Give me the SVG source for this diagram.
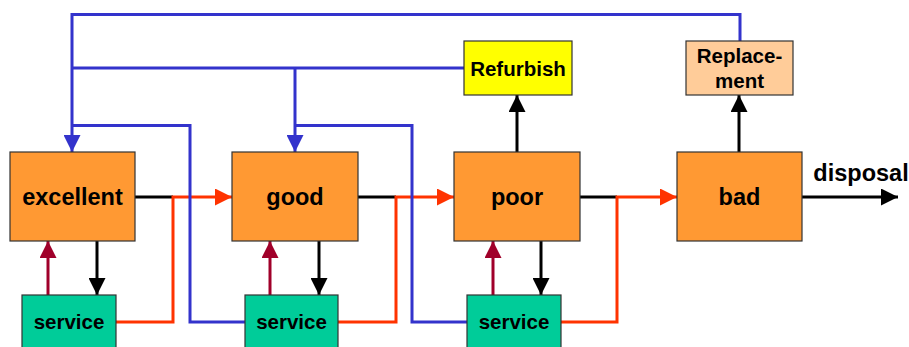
<svg xmlns="http://www.w3.org/2000/svg" width="909" height="347" viewBox="0 0 909 347">
  <style>
    .box { stroke: #333333; stroke-width: 1.2; }
    .state { fill: #FF9933; }
    .svc { fill: #00CC99; }
    .lbl { font-family: "Liberation Sans", Arial, sans-serif; font-weight: bold; fill: #000; text-anchor: middle; }
    .big { font-size: 23.5px; }
    .small { font-size: 20.5px; }
    .c { fill: none; stroke-width: 3; stroke-linejoin: miter; }
    .blk { stroke: #000000; }
    .red { stroke: #FF3300; }
    .dred { stroke: #A0002A; }
    .blu { stroke: #3333CC; }
  </style>
  <defs>
    <marker id="ah-black" markerUnits="userSpaceOnUse" markerWidth="17" markerHeight="17" refX="17" refY="8.5" orient="auto">
      <path d="M0,0 L17,8.5 L0,17 z" fill="#000000"/>
    </marker>
    <marker id="ah-red" markerUnits="userSpaceOnUse" markerWidth="17" markerHeight="17" refX="17" refY="8.5" orient="auto">
      <path d="M0,0 L17,8.5 L0,17 z" fill="#FF3300"/>
    </marker>
    <marker id="ah-dred" markerUnits="userSpaceOnUse" markerWidth="17" markerHeight="17" refX="17" refY="8.5" orient="auto">
      <path d="M0,0 L17,8.5 L0,17 z" fill="#A0002A"/>
    </marker>
    <marker id="ah-blue" markerUnits="userSpaceOnUse" markerWidth="17" markerHeight="17" refX="17" refY="8.5" orient="auto">
      <path d="M0,0 L17,8.5 L0,17 z" fill="#3333CC"/>
    </marker>
  </defs>

  <!-- connectors -->
  <g id="connectors">
    <!-- state to state (black stub) -->
    <path class="c blk" d="M135,197 H173"/>
    <path class="c blk" d="M358,197 H396"/>
    <path class="c blk" d="M580,197 H617"/>
    <path class="c blk" d="M802,197 H898" marker-end="url(#ah-black)"/>
    <!-- state to service -->
    <path class="c blk" d="M97,241 V295" marker-end="url(#ah-black)"/>
    <path class="c blk" d="M319,241 V295" marker-end="url(#ah-black)"/>
    <path class="c blk" d="M541,241 V295" marker-end="url(#ah-black)"/>
    <!-- to refurbish / replacement -->
    <path class="c blk" d="M517,152 V95" marker-end="url(#ah-black)"/>
    <path class="c blk" d="M739,152 V95" marker-end="url(#ah-black)"/>
    <!-- service back up -->
    <path class="c dred" d="M48,295 V241" marker-end="url(#ah-dred)"/>
    <path class="c dred" d="M270,295 V241" marker-end="url(#ah-dred)"/>
    <path class="c dred" d="M493,295 V241" marker-end="url(#ah-dred)"/>
    <!-- service forward (red) -->
    <path class="c red" d="M116,322 H173 V197 H232" marker-end="url(#ah-red)"/>
    <path class="c red" d="M338,322 H396 V197 H454" marker-end="url(#ah-red)"/>
    <path class="c red" d="M561,322 H617 V197 H677" marker-end="url(#ah-red)"/>
    <!-- feedback loops (blue) -->
    <path class="c blu" d="M740,41 V14.5 H72 V152" marker-end="url(#ah-blue)"/>
    <path class="c blu" d="M72,68 H464"/>
    <path class="c blu" d="M295,68 V152" marker-end="url(#ah-blue)"/>
    <path class="c blu" d="M245,322 H190 V125.5 H72"/>
    <path class="c blu" d="M467,322 H412 V125.5 H295"/>
  </g>

  <g id="excellent">
    <rect class="box state" x="10" y="152" width="125" height="89"/>
    <text class="lbl big" x="72.5" y="205">excellent</text>
  </g>
  <g id="good">
    <rect class="box state" x="232" y="152" width="126" height="89"/>
    <text class="lbl big" x="295" y="205">good</text>
  </g>
  <g id="poor">
    <rect class="box state" x="454" y="152" width="126" height="89"/>
    <text class="lbl big" x="517" y="205">poor</text>
  </g>
  <g id="bad">
    <rect class="box state" x="677" y="152" width="125" height="89"/>
    <text class="lbl big" x="739.5" y="205">bad</text>
  </g>

  <g id="service1">
    <rect class="box svc" x="22" y="295" width="94" height="56"/>
    <text class="lbl small" x="69" y="329">service</text>
  </g>
  <g id="service2">
    <rect class="box svc" x="245" y="295" width="93" height="56"/>
    <text class="lbl small" x="291.5" y="329">service</text>
  </g>
  <g id="service3">
    <rect class="box svc" x="467" y="295" width="94" height="56"/>
    <text class="lbl small" x="514" y="329">service</text>
  </g>

  <g id="refurbish">
    <rect class="box" x="464" y="41" width="108" height="54" fill="#FFFF00"/>
    <text class="lbl small" x="518" y="76">Refurbish</text>
  </g>
  <g id="replacement">
    <rect class="box" x="686" y="41" width="107" height="54" fill="#FFCC99"/>
    <text class="lbl small" x="739.5" y="63">Replace-</text>
    <text class="lbl small" x="739.5" y="88">ment</text>
  </g>

  <g id="disposal">
    <text class="lbl big" x="861" y="181">disposal</text>
  </g>
</svg>
